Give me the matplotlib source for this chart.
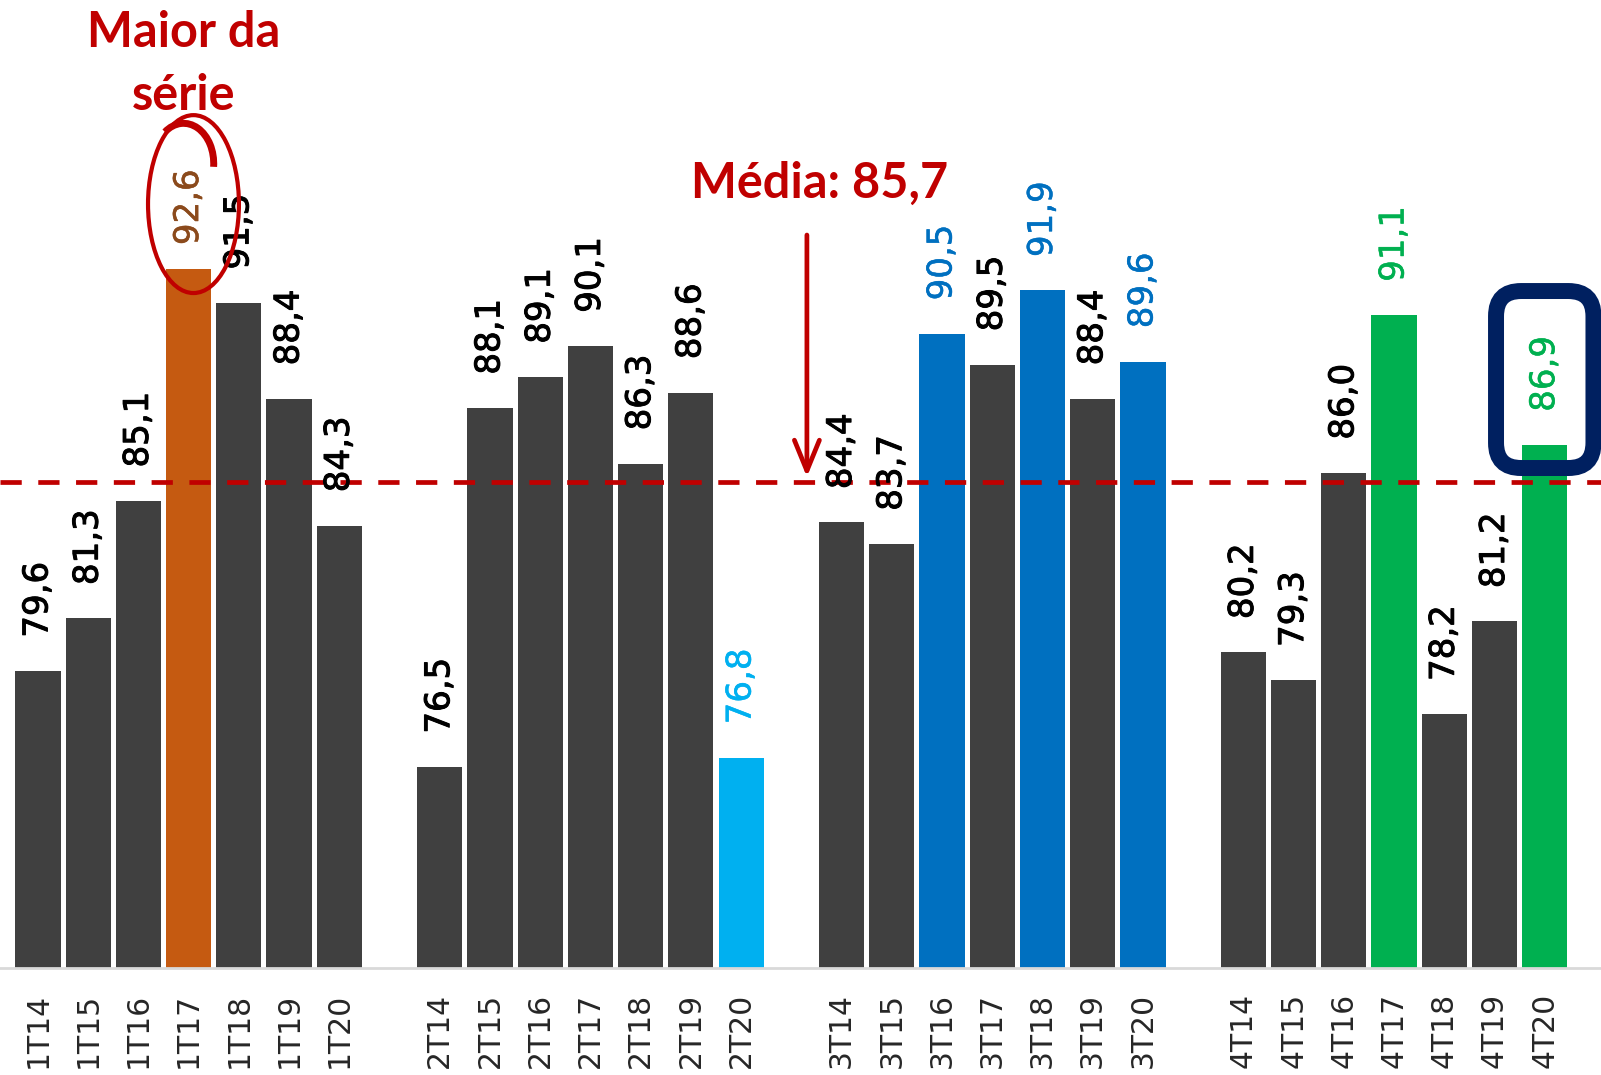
import matplotlib as mpl
mpl.use('Agg')
import matplotlib.pyplot as plt
import matplotlib.patheffects as pe
from matplotlib.patches import Ellipse, Arc, FancyBboxPatch

# data
quarters = ["1T", "2T", "3T", "4T"]
years = ["14", "15", "16", "17", "18", "19", "20"]
values_1t = [79.6, 81.3, 85.1, 92.6, 91.5, 88.4, 84.3]
values_2t = [76.5, 88.1, 89.1, 90.1, 86.3, 88.6, 76.8]
values_3t = [84.4, 83.7, 90.5, 89.5, 91.9, 88.4, 89.6]
values_4t = [80.2, 79.3, 86.0, 91.1, 78.2, 81.2, 86.9]
media = 85.7

DARK = "#404040"
RED = "#C00000"
bar_colors = {
    "1T17": "#C55A11",
    "2T20": "#00B0F0",
    "3T16": "#0070C0", "3T18": "#0070C0", "3T20": "#0070C0",
    "4T17": "#00B050", "4T20": "#00B050",
}
label_colors = {
    "1T17": "#8B4A1C",
    "2T20": "#00B0F0",
    "3T16": "#0070C0", "3T18": "#0070C0", "3T20": "#0070C0",
    "4T17": "#00B050", "4T20": "#00B050",
}

groups = [values_1t, values_2t, values_3t, values_4t]

xs, vals, labels = [], [], []
for g, (q, group) in enumerate(zip(quarters, groups)):
    for i, (y, v) in enumerate(zip(years, group)):
        xs.append(g * 8 + i)
        vals.append(v)
        labels.append(q + y)

fig = plt.figure(figsize=(16.01, 10.75), dpi=100)
ax = fig.add_axes([0, 1 - 968 / 1075, 1, 968 / 1075])
ax.set_xlim(-0.755, 31.12)
ax.set_ylim(70, 70 + 968 / 30.94)

heights = [v - 70 for v in vals]
colors = [bar_colors.get(l, DARK) for l in labels]
ax.bar(xs, heights, bottom=70, width=0.9, color=colors, zorder=2)

top_val = max(vals)
for x, v, l in zip(xs, vals, labels):
    off = 17 if v == top_val else 24
    c = label_colors.get(l, "black")
    # a thin outline in the same colour gives the semi-bold look
    ax.annotate(f"{v:.1f}".replace(".", ","), (x, v), xytext=(0, off),
                textcoords="offset points", rotation=90, ha="center", va="bottom",
                fontsize=24.5, color=c, zorder=4,
                path_effects=[pe.withStroke(linewidth=0.7 if c == "black" else 0.35,
                                            foreground=c)])

ax.set_xticks(xs)
ax.set_xticklabels(labels, rotation=90, fontsize=21.5, color="#262626", va="top")
ax.tick_params(axis="x", length=0, pad=18)
ax.set_yticks([])
for s in ["top", "left", "right"]:
    ax.spines[s].set_visible(False)
ax.spines["bottom"].set_color("#d9d9d9")
ax.spines["bottom"].set_linewidth(2)

# mean line and arrow
ax.axhline(media, color=RED, lw=3.4, ls=(0, (4.5, 3.5)), zorder=3)
ax.annotate("", xy=(15.31, 85.87), xytext=(15.31, 93.69),
            arrowprops=dict(arrowstyle="->,head_length=1.1,head_width=0.45",
                            lw=3.4, color=RED, mutation_scale=20,
                            shrinkA=0, shrinkB=0), zorder=5)
ax.text(15.57, 94.89, "Média: 85,7", ha="center", va="baseline",
        fontsize=35, fontweight="bold", family="Lato", color=RED)

# highlight of the series max
ax.text(2.91, 99.77, "Maior da", ha="center", va="baseline",
        fontsize=35, fontweight="bold", family="Lato", color=RED)
ax.text(2.91, 97.73, "série", ha="center", va="baseline",
        fontsize=35, fontweight="bold", family="Lato", color=RED)
ax.add_patch(Ellipse((3.097, 94.69), 1.81, 5.75, fill=False, ec=RED, lw=3, zorder=5))
ax.add_patch(Arc((2.9, 96.0), 1.2, 2.6, theta1=-10, theta2=110,
                 ec=RED, lw=5, zorder=5))

# box around last value
ax.add_patch(FancyBboxPatch((29.03, 86.16), 30.97 - 29.03, 91.88 - 86.16,
                            boxstyle="round,pad=0,rounding_size=0.5",
                            mutation_aspect=50.23 / 30.94,
                            fill=False, ec="#002060", lw=11.5, zorder=6,
                            clip_on=False))

fig.savefig("out.png", dpi=100)
